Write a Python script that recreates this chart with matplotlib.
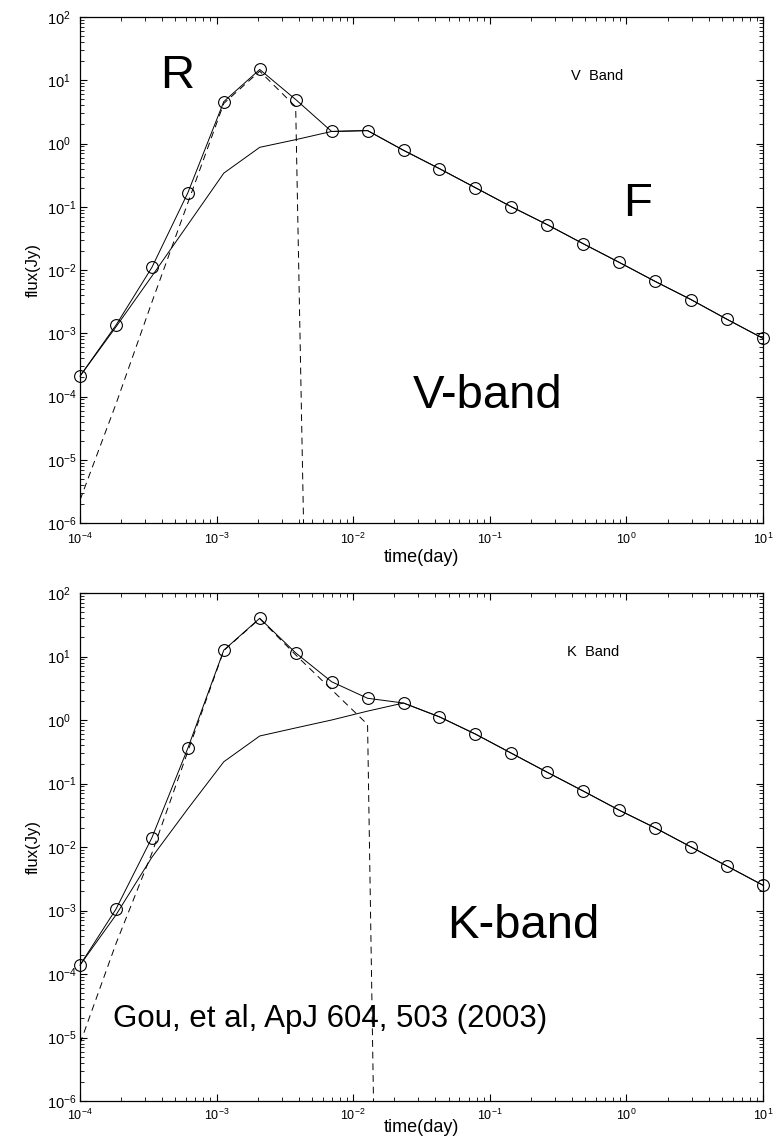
import matplotlib
matplotlib.use("Agg")
import matplotlib.pyplot as plt
from matplotlib.ticker import FixedLocator, NullFormatter

plt.rcParams['font.family'] = ['Liberation Sans', 'DejaVu Sans']

# sampling times in days, same grid for both bands
t = [1.000e-4, 1.833e-4, 3.360e-4, 6.158e-4, 1.129e-3, 2.069e-3, 3.793e-3,
     6.952e-3, 1.274e-2, 2.336e-2, 4.281e-2, 7.848e-2, 0.1438, 0.2637,
     0.4833, 0.8859, 1.624, 2.976, 5.456, 10.0]

# V band flux (Jy): total, forward shock, reverse shock
v_total = [2.1e-4, 1.34e-3, 1.1e-2, 0.166, 4.6, 14.8, 4.96, 1.55, 1.6, 0.78,
           0.40, 0.20, 0.10, 0.052, 0.026, 0.0132, 0.0066, 0.0034, 0.00166, 0.00083]
v_forward = [2.1e-4, 1.26e-3, 8.0e-3, 0.052, 0.34, 0.87, 1.15, 1.55, 1.6] + v_total[9:]
v_reverse = [2.3e-6, 7.6e-5, 3.1e-3, 0.115, 4.3, 13.9, 3.8, 3e-30]

# K band flux (Jy)
k_total = [1.38e-4, 1.05e-3, 1.4e-2, 0.36, 12.6, 40.0, 11.4, 4.0, 2.2, 1.85,
           1.12, 0.60, 0.30, 0.15, 0.076, 0.038, 0.020, 0.010, 0.005, 0.0025]
k_forward = [1.38e-4, 8.5e-4, 6.9e-3, 0.040, 0.22, 0.56, 0.75, 1.0, 1.38] + k_total[9:]
k_reverse = [8e-6, 3e-4, 8e-3, 0.32, 12.4, 39.4, 10.6, 3.0, 0.85, 1e-36]

# decade exponents shown on each axis
x_decades = list(range(-4, 2))
y_decades = list(range(-6, 3))

W, H = 779, 1144
fig = plt.figure(figsize=(W / 100, H / 100), dpi=100)


def px_axes(left, top, right, bottom):
    return fig.add_axes([left / W, 1 - bottom / H, (right - left) / W, (bottom - top) / H])


def log_ticks(axis, decades):
    major = [10.0 ** e for e in decades]
    minor = [m * 10.0 ** e for e in decades[:-1] for m in range(2, 10)]
    axis.set_major_locator(FixedLocator(major))
    axis.set_minor_locator(FixedLocator(minor))
    axis.set_minor_formatter(NullFormatter())


def draw(ax, total, fwd, rev, xpad, xlab_y):
    ax.plot(t, fwd, color='k', lw=0.7)
    ax.plot(t[:len(rev)], rev, color='k', lw=0.7, ls=(0, (7, 5)))
    ax.plot(t, total, color='k', lw=0.7, marker='o', ms=8.5, mfc='none',
            mec='k', mew=0.8, clip_on=False, zorder=3)
    ax.set_xscale('log')
    ax.set_yscale('log')
    ax.set_xlim(1e-4, 10)
    ax.set_ylim(1e-6, 1e2)
    log_ticks(ax.xaxis, x_decades)
    log_ticks(ax.yaxis, y_decades)
    ax.tick_params(which='both', direction='in', top=True, right=True)
    ax.tick_params(which='major', length=5, width=0.8)
    ax.tick_params(which='minor', length=2.8, width=0.6)
    ax.tick_params(axis='x', pad=xpad, labelsize=9)
    # y tick labels sit left-aligned at a fixed column
    ax.tick_params(axis='y', pad=24, labelsize=10.5)
    plt.setp(ax.get_yticklabels(), ha='left')
    for s in ax.spines.values():
        s.set_linewidth(0.9)
    ax.set_xlabel('time(day)', fontsize=13)
    ax.xaxis.set_label_coords(0.5, xlab_y)
    ax.xaxis.label.set_va('center')
    ax.set_ylabel('flux(Jy)', fontsize=12)
    ax.yaxis.set_label_coords(-0.069, 0.5)
    ax.yaxis.label.set_va('center')


ax1 = px_axes(80, 17, 763, 523)
draw(ax1, v_total, v_forward, v_reverse, 6, -(557 - 523) / 506)
ax2 = px_axes(80, 593, 763, 1101)
draw(ax2, k_total, k_forward, k_reverse, 5, -(1127 - 1101) / 508)


def ftext(x, y, s, size):
    fig.text(x / W, 1 - y / H, s, fontsize=size, ha='left', va='baseline')


ftext(571, 80, 'V  Band', 10.5)
ftext(567, 656, 'K  Band', 10.5)
ftext(160, 88, 'R', 34)
ftext(623, 216, 'F', 34)
ftext(413, 408, 'V-band', 34)
ftext(447, 938, 'K-band', 34)
ftext(113, 1027, 'Gou, et al, ApJ 604, 503 (2003)', 22.5)

fig.savefig('out.png', dpi=100)
